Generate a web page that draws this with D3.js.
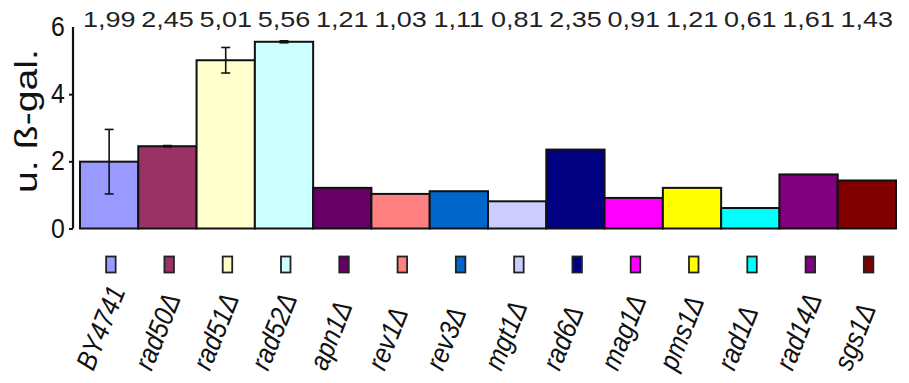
<!DOCTYPE html>
<html>
<head>
<meta charset="utf-8">
<script src="https://cdn.jsdelivr.net/npm/d3@7"></script>
<style>
  html, body { margin: 0; padding: 0; background: #fff; }
  svg { display: block; }
</style>
</head>
<body>
<svg id="chart" width="909" height="383"></svg>
<script>
// Strains, mean activity, error and fill colour
const strains = ["BY4741", "rad50Δ", "rad51Δ", "rad52Δ", "apn1Δ", "rev1Δ", "rev3Δ",
                 "mgt1Δ", "rad6Δ", "mag1Δ", "pms1Δ", "rad1Δ", "rad14Δ", "sgs1Δ"];
const values = [1.99, 2.45, 5.01, 5.56, 1.21, 1.03, 1.11, 0.81, 2.35, 0.91, 1.21, 0.61, 1.61, 1.43];
const errors = [0.96, 0.02, 0.38, 0.03, 0, 0, 0, 0, 0, 0, 0, 0, 0, 0];
const colors = ["#9999FF", "#993366", "#FFFFCC", "#CCFFFF", "#660066", "#FF8080", "#0066CC",
                "#CCCCFF", "#000080", "#FF00FF", "#FFFF00", "#00FFFF", "#800080", "#800000"];
const yTicks = [0, 2, 4, 6];
const yTitle = "u. ß-gal.";

const svg = d3.select("#chart");

const x = d3.scaleBand().domain(strains).range([80, 896]).padding(0);
const y = d3.scaleLinear().domain([0, 6]).range([228.5, 27]);

const fmt = v => d3.format(".2f")(v).replace(".", ",");

// Bars
svg.append("g").selectAll("rect")
  .data(strains)
  .join("rect")
  .attr("x", (d) => x(d))
  .attr("y", (d, i) => y(values[i]))
  .attr("width", x.bandwidth())
  .attr("height", (d, i) => y(0) - y(values[i]))
  .attr("fill", (d, i) => colors[i])
  .attr("stroke", "#111")
  .attr("stroke-width", 2);

// Error bars
const eb = svg.append("g").attr("stroke", "#111").attr("stroke-width", 1.6);
strains.forEach((s, i) => {
  if (!errors[i]) return;
  const cx = x(s) + x.bandwidth() / 2;
  const hi = y(values[i] + errors[i]), lo = y(values[i] - errors[i]);
  eb.append("line").attr("x1", cx).attr("x2", cx).attr("y1", hi).attr("y2", lo);
  eb.append("line").attr("x1", cx - 4.5).attr("x2", cx + 4.5).attr("y1", hi).attr("y2", hi);
  eb.append("line").attr("x1", cx - 4.5).attr("x2", cx + 4.5).attr("y1", lo).attr("y2", lo);
});

// Value labels above the plot
svg.append("g").selectAll("text")
  .data(strains)
  .join("text")
  .attr("transform", (d) => `translate(${x(d) + x.bandwidth() / 2},27) scale(1.2,1)`)
  .attr("text-anchor", "middle")
  .attr("font-family", "Liberation Sans, Arial, sans-serif")
  .attr("font-size", 22.5)
  .attr("fill", "#222")
  .text((d, i) => fmt(values[i]));

// Y axis
const yAxis = svg.append("g")
  .attr("transform", "translate(73,0)")
  .call(d3.axisLeft(y).tickValues(yTicks).tickSize(4).tickPadding(5).tickFormat(d3.format("d")));
yAxis.select(".domain").attr("d", `M0,${y(6)}V${y(0)}`).attr("stroke", "#111").attr("stroke-width", 2.2);
yAxis.selectAll(".tick line").attr("stroke", "#111").attr("stroke-width", 2)
  .filter(d => d === 6).remove();
yAxis.selectAll(".tick text")
  .attr("font-family", "Liberation Sans, Arial, sans-serif")
  .attr("font-size", 27)
  .attr("transform", "scale(0.92,1)")
  .attr("fill", "#111");

// Y axis title
svg.append("text")
  .attr("transform", "translate(37,121) rotate(-90)")
  .attr("text-anchor", "middle")
  .attr("font-family", "Liberation Sans, Arial, sans-serif")
  .attr("font-size", 32)
  .attr("textLength", 144)
  .attr("lengthAdjust", "spacingAndGlyphs")
  .attr("fill", "#111")
  .text(yTitle);

// Legend keys
svg.append("g").selectAll("rect")
  .data(strains)
  .join("rect")
  .attr("x", (d) => x(d) + x.bandwidth() / 2 - 3)
  .attr("y", 256.5)
  .attr("width", 9.5)
  .attr("height", 16)
  .attr("fill", (d, i) => colors[i])
  .attr("stroke", "#222")
  .attr("stroke-width", 1.8);

// Strain names, rotated and slightly condensed
svg.append("g").selectAll("text")
  .data(strains)
  .join("text")
  .attr("transform", (d) => `translate(${x(d) + x.bandwidth() / 2 - 16},372) rotate(-68) scale(0.88,1)`)
  .attr("text-anchor", "start")
  .attr("font-family", "Liberation Sans, Arial, sans-serif")
  .attr("font-style", "italic")
  .attr("font-size", 28)
  .attr("fill", "#111")
  .text((d) => d);
</script>
</body>
</html>
